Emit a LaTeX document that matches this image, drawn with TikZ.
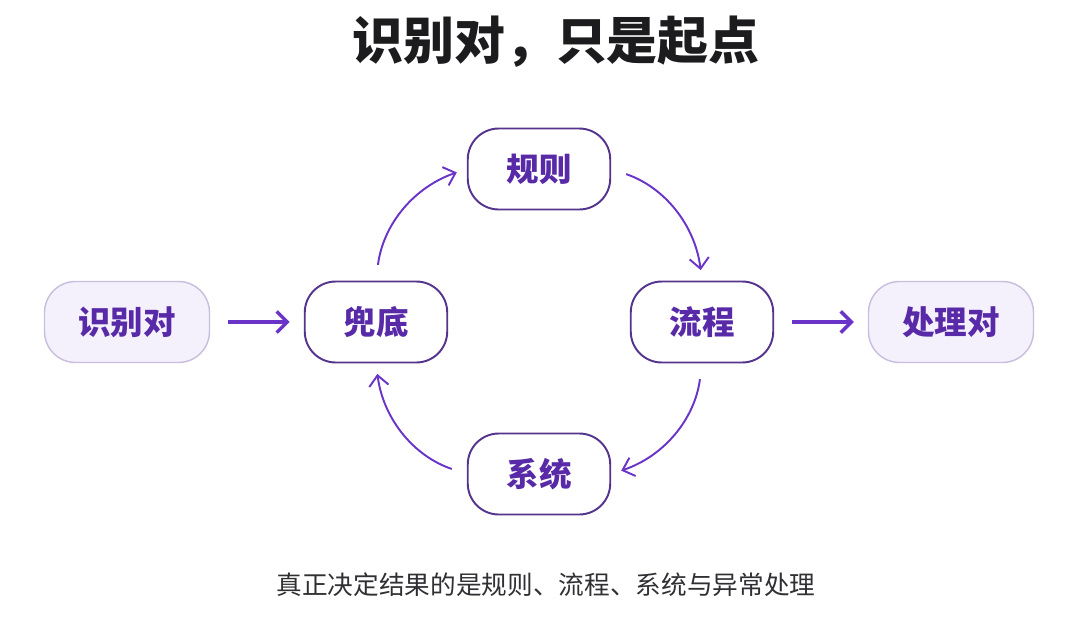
\documentclass[tikz,border=0pt]{standalone}
\usepackage{fontspec}
\usepackage{xcolor}
\usepackage{tikz}
\usetikzlibrary{arrows.meta,positioning}
\newfontfamily\cjk{Noto Sans CJK SC}
\definecolor{inkpurple}{RGB}{88,42,168}
\definecolor{edgepurple}{RGB}{84,52,140}
\definecolor{arrpurple}{RGB}{106,52,200}
\definecolor{softfill}{RGB}{244,240,252}
\definecolor{softedge}{RGB}{200,190,222}
\definecolor{titleink}{RGB}{28,28,30}
\definecolor{noteink}{RGB}{48,48,52}
\tikzset{
  stagebox/.style={draw=edgepurple, line width=1.1pt, fill=white,
                   rounded corners=0.62cm, minimum width=2.85cm,
                   minimum height=1.62cm, inner sep=0pt,
                   text=inkpurple, font=\cjk\bfseries\fontsize{18.5}{20}\selectfont},
  endbox/.style  ={stagebox, draw=softedge, line width=0.8pt, fill=softfill,
                   minimum width=3.3cm},
  cyc/.style     ={-{Straight Barb[length=6pt,width=11pt,line width=1.1pt]},
                   line width=1.1pt, arrpurple,
                   shorten <=9pt, shorten >=6pt},
  flow/.style    ={-{Straight Barb[length=6pt,width=12pt,line width=2pt]},
                   line width=2pt, arrpurple,
                   shorten <=10pt, shorten >=8pt},
}

\begin{document}
\begin{tikzpicture}[x=0.02cm,y=-0.02cm]
  \useasboundingbox (0,0) rectangle (1080,619);
  \node[font=\cjk\bfseries\fontsize{29}{32}\selectfont, text=titleink] (title) at (556,42) {识别对，只是起点};
  % cycle
  \node[stagebox] (dd) at (376,322) {兜底};
  \node[stagebox] (gz) at (539,169) {规则};
  \node[stagebox] (lc) at (702,322) {流程};
  \node[stagebox] (xt) at (539,474) {系统};
  % ends
  \node[endbox] (sb) at (127,322) {识别对};
  \node[endbox] (cl) at (951,322) {处理对};
  \draw[flow](sb)--(dd);
  \draw[flow](lc)--(cl);
  \draw[cyc](dd.north) to[bend left=32] (gz.west);
  \draw[cyc](gz.east) to[bend left=32] (lc.north);
  \draw[cyc](lc.south) to[bend left=32] (xt.east);
  \draw[cyc](xt.west) to[bend left=32] (dd.south);
  \node[font=\cjk\fontsize{14.6}{17}\selectfont, text=noteink] (note) at (546,585) {真正决定结果的是规则、流程、系统与异常处理};
\end{tikzpicture}
\end{document}
